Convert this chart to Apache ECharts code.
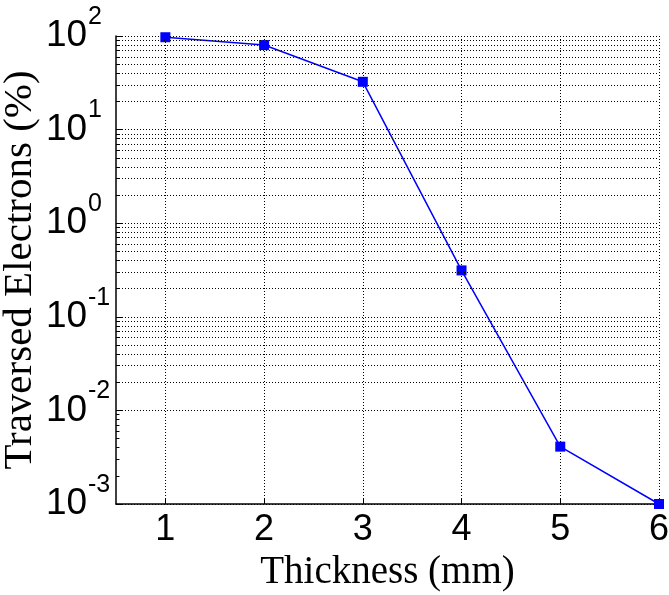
<!DOCTYPE html>
<html><head><meta charset="utf-8">
<script src="https://cdn.jsdelivr.net/npm/echarts@6/dist/echarts.min.js"></script>
<style>html,body{margin:0;padding:0;background:#fff}#c{width:669px;height:595px}</style>
</head><body><div id="c"></div>
<script>
const thickness = [1, 2, 3, 4, 5, 6];
const traversed = [97, 80, 32.4, 0.313, 0.0041, 0.001];
const xTicks = [1, 2, 3, 4, 5, 6];
const yDecades = [0.001, 0.01, 0.1, 1, 10, 100];
const minorMultipliers = [2, 3, 4, 5, 6, 7, 8, 9];

const minorValues = [];
for (let i = 0; i < yDecades.length - 1; i++) {
  for (const m of minorMultipliers) minorValues.push(yDecades[i] * m);
}
const dotted = {color: '#000', width: 1, type: [1, 2]};
const markData = [];
minorValues.forEach(v => markData.push({yAxis: v, lineStyle: dotted}));
minorValues.forEach(v => markData.push([{coord: [0.5, v], lineStyle: {color: '#000', width: 1, type: 'solid'}}, {coord: [0.535, v]}]));

const chart = echarts.init(document.getElementById('c'), null, {renderer: 'canvas'});
chart.setOption({
  animation: false,
  backgroundColor: '#fff',
  grid: {left: 116, right: 10, top: 36, bottom: 91, containLabel: false, outerBoundsMode: 'none'},
  xAxis: {
    type: 'value', min: 0.5, max: 6,
    name: 'Thickness (mm)', nameLocation: 'middle', nameGap: 42,
    nameTextStyle: {fontFamily: 'Liberation Serif', fontSize: 39, color: '#000'},
    axisLine: {lineStyle: {color: '#000', width: 1.5}},
    axisTick: {inside: true, length: 5, customValues: xTicks, lineStyle: {color: '#000'}},
    axisLabel: {customValues: xTicks, fontFamily: 'Liberation Sans', fontSize: 36, color: '#000', margin: 8},
    splitLine: {show: true, lineStyle: dotted}
  },
  yAxis: [{
    type: 'log', logBase: 10, min: 0.001, max: 100, position: 'left',
    name: 'Traversed Electrons (%)', nameLocation: 'middle', nameGap: 75, nameRotate: 90,
    nameMoveOverlap: false,
    nameTextStyle: {fontFamily: 'Liberation Serif', fontSize: 41, color: '#000'},
    axisLine: {show: true, lineStyle: {color: '#000', width: 1.5}},
    axisTick: {show: true, inside: true, length: 6, lineStyle: {color: '#000'}},
    axisLabel: {
      align: 'left', margin: 70, verticalAlign: 'middle',
      fontFamily: 'Liberation Sans', fontSize: 37, color: '#000',
      formatter: () => '10'
    },
    splitLine: {show: true, lineStyle: dotted}
  }, {
    type: 'log', logBase: 10, min: 0.001, max: 100, position: 'left', offset: 0,
    axisLine: {show: false}, axisTick: {show: false}, splitLine: {show: false},
    axisLabel: {
      align: 'left', margin: 28, verticalAlign: 'bottom',
      fontFamily: 'Liberation Sans', fontSize: 25, lineHeight: 38, color: '#000',
      formatter: v => String(Math.round(Math.log10(v)))
    }
  }],
  series: [{
    type: 'line', yAxisIndex: 0, data: thickness.map((x, i) => [x, traversed[i]]),
    clip: false,
    lineStyle: {color: '#0000ff', width: 1.5},
    itemStyle: {color: '#0000ff'},
    symbol: 'rect', symbolSize: 10,
    markLine: {silent: true, symbol: 'none', label: {show: false}, animation: false, data: markData},
    z: 3
  }]
});
</script></body></html>
